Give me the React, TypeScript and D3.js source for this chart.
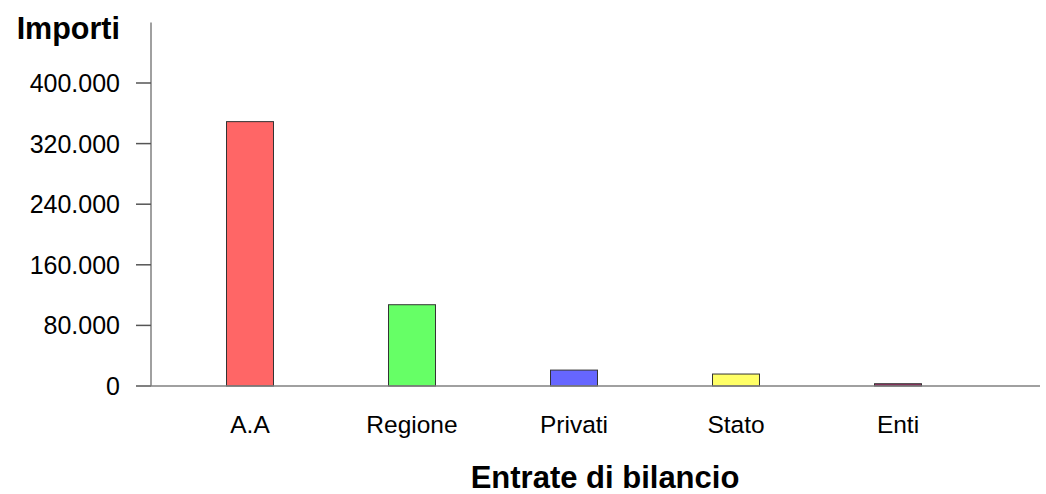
import * as React from "react";
import * as d3 from "d3";

const categories = ["A.A", "Regione", "Privati", "Stato", "Enti"];
const values = [349000, 107300, 21000, 15800, 3000];
const colors = ["#FF6666", "#66FF66", "#6666FF", "#FFFF66", "#993366"];
const yTicks = [0, 80000, 160000, 240000, 320000, 400000];

const itFormat = d3
  .formatLocale({ decimal: ",", thousands: ".", grouping: [3], currency: ["€", ""] })
  .format(",");

const font = "'Liberation Sans', Arial, sans-serif";

export default function App() {
  const width = 1046;
  const height = 494;
  const axisX = 151;
  const baseY = 386;

  const xScale = d3
    .scaleBand()
    .domain(categories)
    .range([169, 979])
    .paddingInner(0.71)
    .paddingOuter(0.355);

  const yScale = d3.scaleLinear().domain([0, 480000]).range([baseY, 22.4]);

  return (
    <svg
      width={width}
      height={height}
      style={{ position: "absolute", left: 0, top: 0, background: "#fff" }}
    >
      {/* y axis */}
      <line x1={axisX} x2={axisX} y1={yScale(480000)} y2={baseY} stroke="#808080" strokeWidth={1.5} />
      {yTicks.map((t) => (
        <g key={t} transform={`translate(0,${yScale(t)})`}>
          <line x1={136} x2={axisX} stroke="#555" strokeWidth={1.5} />
          <text
            x={120}
            dy="0.36em"
            textAnchor="end"
            fontFamily={font}
            fontSize={25}
            fill="#000"
          >
            {itFormat(t)}
          </text>
        </g>
      ))}
      <text x={120} y={39} textAnchor="end" fontFamily={font} fontSize={30.5} fontWeight="bold">
        Importi
      </text>

      {/* bars */}
      {categories.map((c, i) => (
        <rect
          key={c}
          x={xScale(c)}
          y={yScale(values[i])}
          width={xScale.bandwidth()}
          height={baseY - yScale(values[i])}
          fill={colors[i]}
          stroke="#333"
          strokeWidth={1}
        />
      ))}

      {/* x axis */}
      <line x1={136} x2={1040} y1={baseY} y2={baseY} stroke="#808080" strokeWidth={1.5} />
      {categories.map((c) => (
        <text
          key={c}
          x={(xScale(c) ?? 0) + xScale.bandwidth() / 2}
          y={432.5}
          textAnchor="middle"
          fontFamily={font}
          fontSize={24.5}
        >
          {c}
        </text>
      ))}
      <text x={605} y={488} textAnchor="middle" fontFamily={font} fontSize={31} fontWeight="bold">
        Entrate di bilancio
      </text>
    </svg>
  );
}
